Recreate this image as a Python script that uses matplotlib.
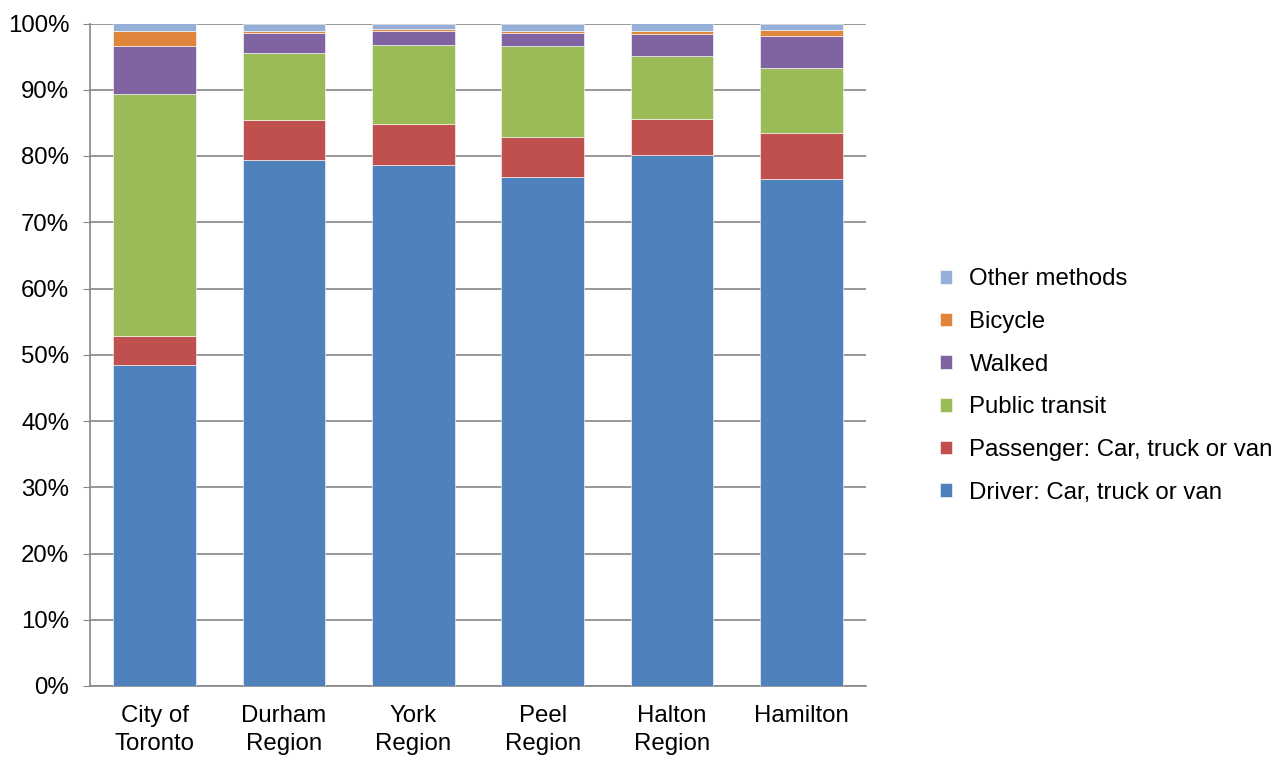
import matplotlib
matplotlib.use("Agg")
import matplotlib.pyplot as plt
from matplotlib.ticker import FuncFormatter
import numpy as np

plt.rcParams['font.family'] = ['Liberation Sans', 'DejaVu Sans']

regions = ["City of\nToronto", "Durham\nRegion", "York\nRegion", "Peel\nRegion",
           "Halton\nRegion", "Hamilton"]

# share of commuters by travel mode, percent
driver = [48.5, 79.4, 78.6, 76.8, 80.2, 76.5]
passenger = [4.4, 6.0, 6.2, 6.1, 5.4, 7.0]
transit = [36.5, 10.1, 11.9, 13.7, 9.5, 9.8]
walked = [7.2, 3.1, 2.1, 2.0, 3.3, 4.8]
bicycle = [2.2, 0.3, 0.3, 0.3, 0.5, 0.9]
other = [1.2, 1.1, 0.9, 1.1, 1.1, 1.0]

series = [
    ("Driver: Car, truck or van", driver, "#4F81BD"),
    ("Passenger: Car, truck or van", passenger, "#C0504D"),
    ("Public transit", transit, "#9BBB59"),
    ("Walked", walked, "#8064A2"),
    ("Bicycle", bicycle, "#E0853C"),
    ("Other methods", other, "#95AFD8"),
]

FS = 17.3

fig = plt.figure(figsize=(12.83, 7.61), dpi=100)
ax = fig.add_axes([90 / 1283, 1 - 686 / 761, 776 / 1283, (686 - 23.5) / 761])

x = np.arange(len(regions))
bottom = np.zeros(len(regions))
for name, vals, color in series:
    ax.bar(x, vals, 0.64, bottom=bottom, color=color, label=name,
           edgecolor="white", linewidth=0.4, zorder=3)
    bottom += np.array(vals)

ax.set_xlim(-0.5, len(regions) - 0.5)
ax.set_ylim(0, 100)
ax.set_yticks(np.arange(0, 101, 10))
ax.yaxis.set_major_formatter(FuncFormatter(lambda v, p: f"{v:.0f}%"))
ax.set_xticks(x)
ax.set_xticklabels(regions, fontsize=FS, linespacing=1.35)
ax.tick_params(axis="y", labelsize=FS, length=5, color="#868686", pad=10)
ax.tick_params(axis="x", length=0, pad=14)

ax.grid(axis="y", color="#868686", linewidth=1.2, zorder=0)
for side in ["top", "right"]:
    ax.spines[side].set_visible(False)
for side in ["left", "bottom"]:
    ax.spines[side].set_color("#868686")
    ax.spines[side].set_linewidth(1.2)

handles, labels = ax.get_legend_handles_labels()
fig.legend(handles[::-1], labels[::-1], loc="center left",
           bbox_to_anchor=(918 / 1283, 1 - 386 / 761), frameon=False,
           fontsize=FS, handlelength=0.5, handleheight=0.5,
           labelspacing=0.86, handletextpad=0.74)

fig.savefig("out.png", dpi=100)
